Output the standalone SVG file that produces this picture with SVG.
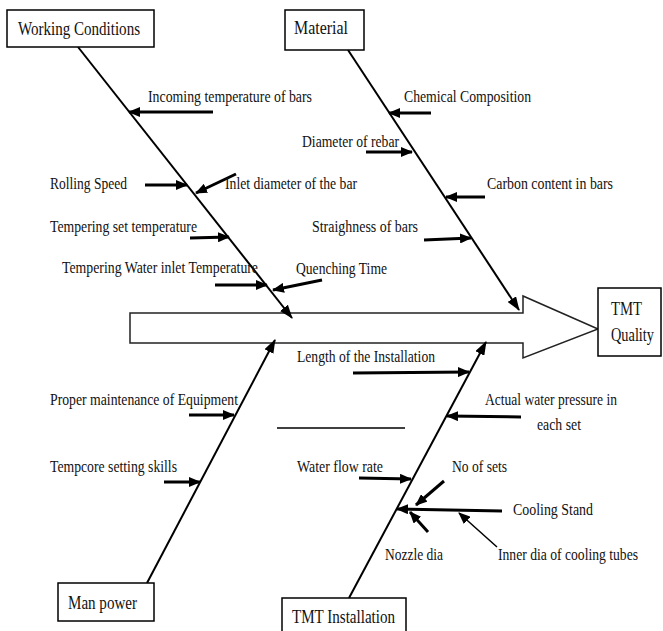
<svg xmlns="http://www.w3.org/2000/svg" width="663" height="631" viewBox="0 0 663 631">
<style>
.box{fill:#fff;stroke:#000;stroke-width:1.5}
.spine{fill:none;stroke:#222;stroke-width:1.5}
.bone{fill:none;stroke:#000;stroke-width:2}
.sub{fill:none;stroke:#000;stroke-width:3}
.thin{fill:none;stroke:#000;stroke-width:1.5}
text{font-family:"Liberation Serif","Times New Roman",serif;fill:#111}
.lbl{font-size:17px}
.ttl{font-size:19px}
</style>
<defs>
<marker id="ah" markerUnits="userSpaceOnUse" markerWidth="12" markerHeight="10" refX="11" refY="5" orient="auto">
<path d="M0,0 L12,5 L0,10 z" fill="#000"/>
</marker>
<marker id="bh" markerUnits="userSpaceOnUse" markerWidth="14" markerHeight="10" refX="13" refY="5" orient="auto">
<path d="M0,0 L14,5 L0,10 z" fill="#000"/>
</marker>
</defs>

<g id="spine">
<path class="spine" d="M523,313 L130,313 L130,343 L523,343 L523,358 L598,329 L523,296 Z"/>
</g>

<g id="connectors">
<line class="bone" x1="78" y1="47" x2="292" y2="318" marker-end="url(#bh)"/>
<line class="bone" x1="348" y1="50" x2="519" y2="310" marker-end="url(#bh)"/>
<line class="bone" x1="147" y1="583" x2="275" y2="340" marker-end="url(#bh)"/>
<line class="bone" x1="349" y1="598" x2="486" y2="342" marker-end="url(#bh)"/>
<line class="sub" x1="213" y1="112" x2="129" y2="112" marker-end="url(#ah)"/>
<line class="sub" x1="145" y1="185" x2="187" y2="185" marker-end="url(#ah)"/>
<line class="sub" x1="236" y1="174" x2="196" y2="193" marker-end="url(#ah)"/>
<line class="sub" x1="190" y1="238" x2="229" y2="237" marker-end="url(#ah)"/>
<line class="sub" x1="215" y1="285" x2="267" y2="285" marker-end="url(#ah)"/>
<line class="sub" x1="322" y1="280" x2="273" y2="290" marker-end="url(#ah)"/>
<line class="sub" x1="431" y1="113" x2="389" y2="113" marker-end="url(#ah)"/>
<line class="sub" x1="366" y1="152" x2="412" y2="152" marker-end="url(#ah)"/>
<line class="sub" x1="485" y1="197" x2="446" y2="197" marker-end="url(#ah)"/>
<line class="sub" x1="424" y1="240" x2="471" y2="238" marker-end="url(#ah)"/>
<line class="sub" x1="189" y1="415" x2="234" y2="415" marker-end="url(#ah)"/>
<line class="sub" x1="164" y1="482" x2="200" y2="482" marker-end="url(#ah)"/>
<line class="sub" x1="353" y1="373" x2="469" y2="372" marker-end="url(#ah)"/>
<line class="sub" x1="521" y1="417" x2="447" y2="416" marker-end="url(#ah)"/>
<line class="thin" x1="277" y1="428" x2="405" y2="428"/>
<line class="sub" x1="359" y1="478" x2="411" y2="479" marker-end="url(#ah)"/>
<line class="sub" x1="444" y1="481" x2="416" y2="505" marker-end="url(#ah)"/>
<line class="sub" x1="502" y1="511" x2="397" y2="509" marker-end="url(#ah)"/>
<line class="thin" x1="497" y1="547" x2="459" y2="513" marker-end="url(#ah)"/>
<line class="sub" x1="428" y1="532" x2="410" y2="512" marker-end="url(#ah)"/>
</g>

<g id="node-working-conditions">
<rect class="box" x="7" y="10" width="147" height="37"/>
<text class="ttl" x="18" y="35" textLength="122" lengthAdjust="spacingAndGlyphs">Working Conditions</text>
</g>
<g id="node-material">
<rect class="box" x="285" y="10" width="79" height="40"/>
<text class="ttl" x="294" y="34" textLength="54" lengthAdjust="spacingAndGlyphs">Material</text>
</g>
<g id="node-tmt-quality">
<rect class="box" x="598" y="288" width="63" height="68"/>
<text class="ttl" x="611" y="315" textLength="31" lengthAdjust="spacingAndGlyphs">TMT</text>
<text class="ttl" x="611" y="341" textLength="43" lengthAdjust="spacingAndGlyphs">Quality</text>
</g>
<g id="node-man-power">
<rect class="box" x="58" y="583" width="96" height="38"/>
<text class="ttl" x="68" y="609" textLength="69" lengthAdjust="spacingAndGlyphs">Man power</text>
</g>
<g id="node-tmt-installation">
<rect class="box" x="282" y="598" width="124" height="45"/>
<text class="ttl" x="292" y="623" textLength="103" lengthAdjust="spacingAndGlyphs">TMT Installation</text>
</g>

<g id="cause-labels">
<text class="lbl" x="148" y="102" textLength="164" lengthAdjust="spacingAndGlyphs">Incoming temperature of bars</text>
<text class="lbl" x="404" y="102" textLength="127" lengthAdjust="spacingAndGlyphs">Chemical Composition</text>
<text class="lbl" x="302" y="147" textLength="97" lengthAdjust="spacingAndGlyphs">Diameter of rebar</text>
<text class="lbl" x="50" y="189" textLength="77" lengthAdjust="spacingAndGlyphs">Rolling Speed</text>
<text class="lbl" x="225" y="189" textLength="132" lengthAdjust="spacingAndGlyphs">Inlet diameter of the bar</text>
<text class="lbl" x="487" y="189" textLength="126" lengthAdjust="spacingAndGlyphs">Carbon content in bars</text>
<text class="lbl" x="50" y="232" textLength="147" lengthAdjust="spacingAndGlyphs">Tempering set temperature</text>
<text class="lbl" x="312" y="232" textLength="106" lengthAdjust="spacingAndGlyphs">Straighness of bars</text>
<text class="lbl" x="62" y="273" textLength="196" lengthAdjust="spacingAndGlyphs">Tempering Water inlet Temperature</text>
<text class="lbl" x="296" y="274" textLength="91" lengthAdjust="spacingAndGlyphs">Quenching Time</text>
<text class="lbl" x="297" y="362" textLength="138" lengthAdjust="spacingAndGlyphs">Length of the Installation</text>
<text class="lbl" x="50" y="405" textLength="188" lengthAdjust="spacingAndGlyphs">Proper maintenance of Equipment</text>
<text class="lbl" x="485" y="405" textLength="132" lengthAdjust="spacingAndGlyphs">Actual water pressure in</text>
<text class="lbl" x="537" y="430" textLength="44" lengthAdjust="spacingAndGlyphs">each set</text>
<text class="lbl" x="50" y="472" textLength="127" lengthAdjust="spacingAndGlyphs">Tempcore setting skills</text>
<text class="lbl" x="297" y="472" textLength="86" lengthAdjust="spacingAndGlyphs">Water flow rate</text>
<text class="lbl" x="452" y="472" textLength="55" lengthAdjust="spacingAndGlyphs">No of sets</text>
<text class="lbl" x="513" y="515" textLength="80" lengthAdjust="spacingAndGlyphs">Cooling Stand</text>
<text class="lbl" x="385" y="560" textLength="58" lengthAdjust="spacingAndGlyphs">Nozzle dia</text>
<text class="lbl" x="498" y="560" textLength="140" lengthAdjust="spacingAndGlyphs">Inner dia of cooling tubes</text>
</g>
</svg>
